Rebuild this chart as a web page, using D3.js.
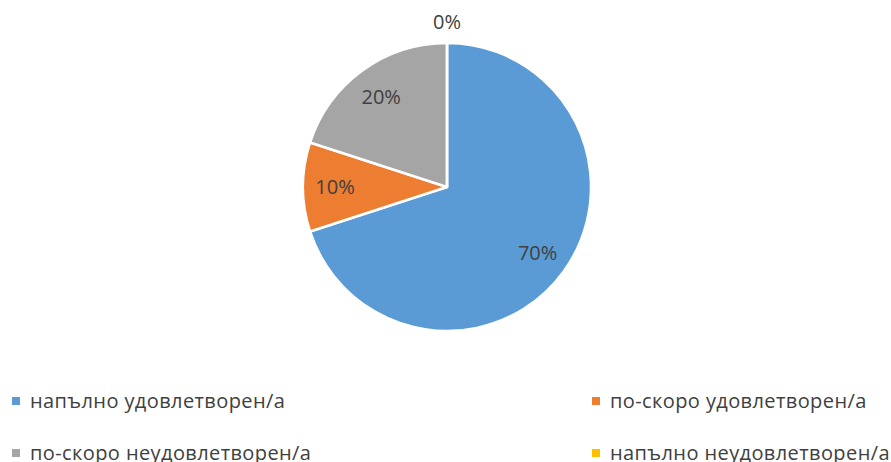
<!DOCTYPE html>
<html>
<head>
<meta charset="utf-8">
<script src="https://cdn.jsdelivr.net/npm/d3@7"></script>
<style>
  body { margin: 0; background: #fff; }
  text { font-family: "Open Sans", "Noto Sans", sans-serif; fill: #404040; }
</style>
</head>
<body>
<div id="chart"></div>
<script>
// Data
var categories = ["напълно удовлетворен/а", "по-скоро удовлетворен/а", "по-скоро неудовлетворен/а", "напълно неудовлетворен/а"],
    values = [70, 10, 20, 0],
    colors = ["#5B9BD5", "#ED7D31", "#A5A5A5", "#FFC000"];

var w = 891, h = 462,
    cx = 447, cy = 187,
    radius = 144;

var svg = d3.select("#chart").append("svg")
    .attr("width", w)
    .attr("height", h);

var data = categories.map(function(c, i) { return {name: c, value: values[i], color: colors[i]}; });

var pie = d3.pie().sort(null).value(function(d) { return d.value; });
var arcs = pie(data);

var arc = d3.arc().innerRadius(0).outerRadius(radius);
var labelArc = d3.arc().innerRadius(112).outerRadius(112);
var outerLabelArc = d3.arc().innerRadius(165).outerRadius(165);

// Pie
var container = svg.append("g").attr("transform", "translate(" + cx + "," + cy + ")");

container.selectAll("path.slice")
    .data(arcs).enter().append("path")
    .attr("class", "slice")
    .attr("d", arc)
    .style("fill", function(d) { return d.data.color; })
    .style("stroke", "white")
    .style("stroke-width", 2.5)
    .style("stroke-linejoin", "round");

// Labels (zero slice sits outside the pie)
container.selectAll("text.lbl")
    .data(arcs).enter().append("text")
    .attr("class", "lbl")
    .attr("transform", function(d) {
        var p = d.data.value === 0 ? outerLabelArc.centroid(d) : labelArc.centroid(d);
        return "translate(" + p + ")";
    })
    .attr("text-anchor", "middle")
    .attr("dy", "0.36em")
    .style("font-size", "20px")
    .text(function(d) { return d.data.value + "%"; });

// Legend
var legendPos = [[11, 408], [591, 408], [11, 460], [591, 460]];
var legend = svg.selectAll("g.legend")
    .data(data).enter().append("g")
    .attr("class", "legend")
    .attr("transform", function(d, i) { return "translate(" + legendPos[i][0] + "," + legendPos[i][1] + ")"; });

legend.append("rect")
    .attr("x", 1).attr("y", -11)
    .attr("width", 8).attr("height", 8)
    .style("fill", function(d) { return d.color; });

legend.append("text")
    .attr("x", 19)
    .style("font-size", "20px")
    .style("letter-spacing", "0.4px")
    .text(function(d) { return d.name; });
</script>
</body>
</html>
